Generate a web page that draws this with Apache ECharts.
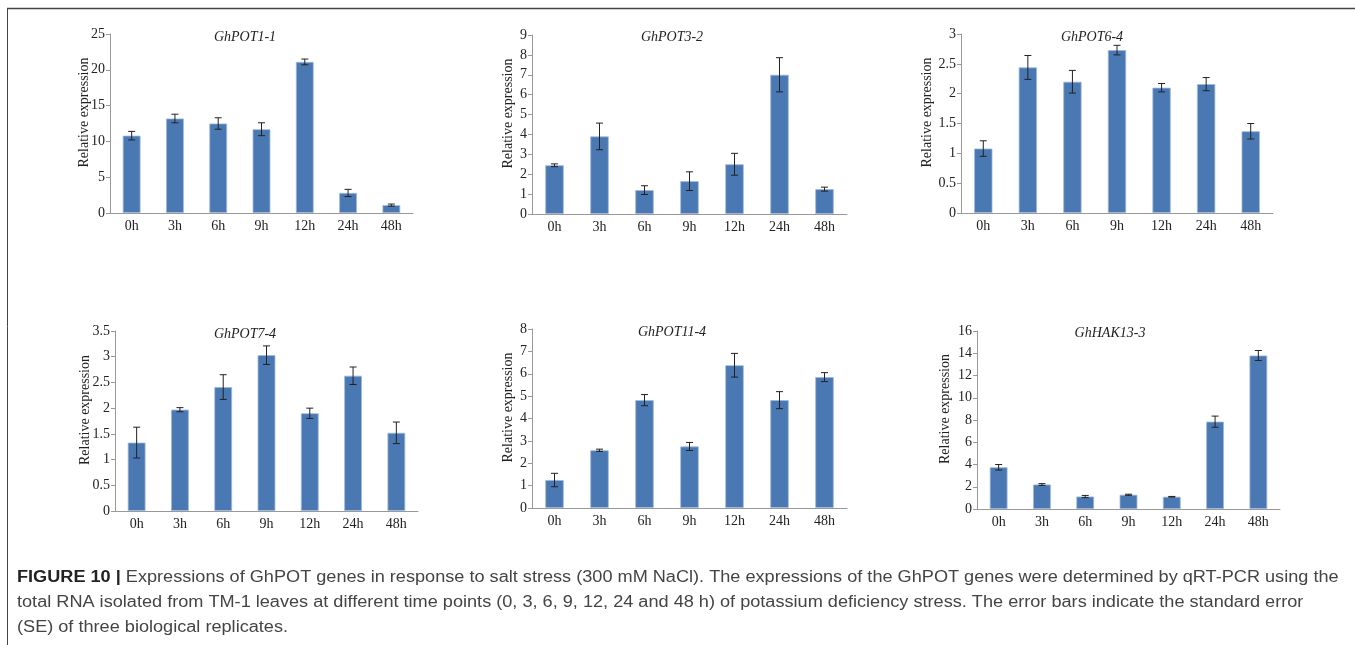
<!DOCTYPE html>
<html>
<head>
<meta charset="utf-8">
<script src="https://cdn.jsdelivr.net/npm/echarts@6/dist/echarts.min.js"></script>
<style>
  html, body { margin: 0; padding: 0; background: #fff; }
  #main { width: 1355px; height: 645px; }
</style>
</head>
<body>
<div id="main"></div>
<script>
// time points
var categories = ['0h', '3h', '6h', '9h', '12h', '24h', '48h'];

// gene names
var genes = ['GhPOT1-1', 'GhPOT3-2', 'GhPOT6-4', 'GhPOT7-4', 'GhPOT11-4', 'GhHAK13-3'];

// relative expression (mean) and standard error
var pot1_1 = [10.8, 13.2, 12.5, 11.7, 21.1, 2.8, 1.1];
var pot1_1_se = [0.6, 0.6, 0.8, 0.9, 0.4, 0.5, 0.15];
var pot3_2 = [2.45, 3.9, 1.2, 1.65, 2.5, 7.0, 1.25];
var pot3_2_se = [0.07, 0.67, 0.22, 0.47, 0.55, 0.86, 0.1];
var pot6_4 = [1.08, 2.44, 2.2, 2.73, 2.1, 2.16, 1.37];
var pot6_4_se = [0.13, 0.2, 0.19, 0.08, 0.07, 0.11, 0.13];
var pot7_4 = [1.33, 1.97, 2.41, 3.03, 1.9, 2.63, 1.52];
var pot7_4_se = [0.3, 0.04, 0.24, 0.18, 0.1, 0.17, 0.21];
var pot11_4 = [1.25, 2.58, 4.82, 2.75, 6.38, 4.82, 5.85];
var pot11_4_se = [0.3, 0.05, 0.25, 0.18, 0.53, 0.38, 0.2];
var hak13_3 = [3.75, 2.2, 1.12, 1.28, 1.1, 7.85, 13.8];
var hak13_3_se = [0.25, 0.08, 0.1, 0.05, 0.03, 0.5, 0.45];

// y axis ranges
var yMax = [25, 9, 3, 3.5, 8, 16];
var yStep = [5, 1, 0.5, 0.5, 1, 2];

var values = [pot1_1, pot3_2, pot6_4, pot7_4, pot11_4, hak13_3];
var errors = [pot1_1_se, pot3_2_se, pot6_4_se, pot7_4_se, pot11_4_se, hak13_3_se];

// panel layout
var grids = [
    {left: 110, top: 34, width: 303, height: 179},
    {left: 532, top: 35, width: 315, height: 179},
    {left: 961, top: 34, width: 312, height: 179},
    {left: 115, top: 331, width: 303, height: 180},
    {left: 532, top: 329, width: 315, height: 179},
    {left: 977, top: 331, width: 303, height: 178}
];
var titlePos = [[245, 30], [672, 30], [1092, 30], [245, 327], [672, 325], [1110, 326]];
var nameGaps = [19, 17, 27, 23, 17, 25];

var serif = '"Liberation Serif", "Times New Roman", serif';
var barColor = '#4a78b3';

var option = {
    animation: false,
    backgroundColor: '#fff',
    title: [],
    grid: [],
    xAxis: [],
    yAxis: [],
    series: [],
    graphic: []
};

for (var i = 0; i < 6; i++) {
    option.grid.push({left: grids[i].left, top: grids[i].top, width: grids[i].width, height: grids[i].height});
    option.title.push({
        text: genes[i],
        left: titlePos[i][0],
        top: titlePos[i][1],
        padding: 0,
        textAlign: 'center',
        textStyle: {fontFamily: serif, fontStyle: 'italic', fontWeight: 'normal', fontSize: 14, color: '#222'}
    });
    option.xAxis.push({
        type: 'category',
        gridIndex: i,
        data: categories,
        axisLine: {lineStyle: {color: '#999', width: 1}},
        axisTick: {length: 5, lineStyle: {color: '#999'}},
        axisLabel: {fontFamily: serif, fontSize: 14, color: '#222', margin: 6}
    });
    option.yAxis.push({
        type: 'value',
        gridIndex: i,
        min: 0,
        max: yMax[i],
        interval: yStep[i],
        name: 'Relative expression',
        nameLocation: 'middle',
        nameGap: nameGaps[i],
        nameMoveOverlap: false,
        nameTextStyle: {fontFamily: serif, fontSize: 14, color: '#222', padding: [0, 0, 0, 22]},
        splitLine: {show: false},
        axisLine: {show: true, lineStyle: {color: '#999', width: 1}},
        axisTick: {show: true, length: 4, lineStyle: {color: '#999'}},
        axisLabel: {fontFamily: serif, fontSize: 14, color: '#222', margin: 5}
    });
    option.series.push({
        type: 'bar',
        xAxisIndex: i,
        yAxisIndex: i,
        data: values[i],
        barWidth: '41%',
        itemStyle: {color: barColor, borderColor: '#9fb7da', borderWidth: 0.8}
    });
    // error bars
    var errData = values[i].map(function (v, k) {
        return [k, v - errors[i][k], v + errors[i][k]];
    });
    option.series.push({
        type: 'custom',
        xAxisIndex: i,
        yAxisIndex: i,
        data: errData,
        z: 10,
        renderItem: function (params, api) {
            var x = api.value(0);
            var lo = api.coord([x, api.value(1)]);
            var hi = api.coord([x, api.value(2)]);
            var cap = 3.5;
            var st = {stroke: '#222', lineWidth: 1};
            return {
                type: 'group',
                children: [
                    {type: 'line', shape: {x1: hi[0], y1: hi[1], x2: lo[0], y2: lo[1]}, style: st},
                    {type: 'line', shape: {x1: hi[0] - cap, y1: hi[1], x2: hi[0] + cap, y2: hi[1]}, style: st},
                    {type: 'line', shape: {x1: lo[0] - cap, y1: lo[1], x2: lo[0] + cap, y2: lo[1]}, style: st}
                ]
            };
        }
    });
}

// figure frame (top and left rules)
option.graphic.push({type: 'line', shape: {x1: 7, y1: 8.5, x2: 1355, y2: 8.5}, style: {stroke: '#444', lineWidth: 1.5}});
option.graphic.push({type: 'line', shape: {x1: 7.5, y1: 8, x2: 7.5, y2: 645}, style: {stroke: '#444', lineWidth: 1}});

// caption, stretched a little to match the wide face of the original
var captionFont = '"Liberation Sans", Arial, sans-serif';
var captionLines = [
    '{b|FIGURE 10 |} Expressions of GhPOT genes in response to salt stress (300 mM NaCl). The expressions of the GhPOT genes were determined by qRT-PCR using the',
    'total RNA isolated from TM-1 leaves at different time points (0, 3, 6, 9, 12, 24 and 48 h) of potassium deficiency stress. The error bars indicate the standard error',
    '(SE) of three biological replicates.'
];
captionLines.forEach(function (line, k) {
    option.graphic.push({
        type: 'text',
        x: 17,
        y: 578 + k * 25,
        scaleX: 1.133,
        style: {
            text: line,
            x: 0,
            y: 0,
            verticalAlign: 'middle',
            fontFamily: captionFont,
            fontSize: 16,
            fill: '#444',
            rich: {
                b: {fontFamily: captionFont, fontSize: 16, fontWeight: 'bold', fill: '#222'}
            }
        }
    });
});

var myChart = echarts.init(document.getElementById('main'));
myChart.setOption(option);
</script>
</body>
</html>
